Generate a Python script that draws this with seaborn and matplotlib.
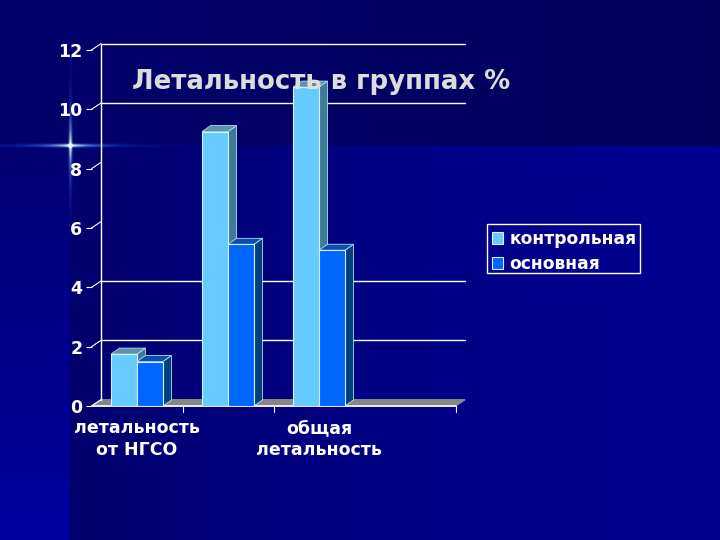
import numpy as np
import pandas as pd
import seaborn as sns
import matplotlib.pyplot as plt
from matplotlib.patches import Polygon, Rectangle

# Chart data
groups = [0, 1, 2, 3]
tick_labels = ['летальность\nот НГСО', '', 'общая\nлетальность', '']
control = [1.75, 9.25, 10.75, np.nan]
main = [1.5, 5.45, 5.25, np.nan]
series_names = ['контрольная', 'основная']
y_ticks = [0, 2, 4, 6, 8, 10, 12]
grid_levels = [2, 4, 10, 12]

df = pd.DataFrame({
    'group': groups * 2,
    'series': [series_names[0]] * 4 + [series_names[1]] * 4,
    'value': control + main,
})

LIGHT = '#66ccff'
BLUE = '#0066ff'
side_colors = {LIGHT: '#3f7a96', BLUE: '#00407f'}
top_colors = {LIGHT: '#5a93ad', BLUE: '#0a4fb0'}

sns.set_style('white')
plt.rcParams['font.family'] = ['DejaVu Sans']

W, H = 720, 540
fig = plt.figure(figsize=(7.2, 5.4), dpi=100)

# slide background with the flare
yy, xx = np.mgrid[0:H, 0:W]
blue = 0.42 + 0.15 * np.clip((xx - 70) / 650, 0, 1) ** 0.6
top = yy <= 145
blue[top] = 0.42 - 0.06 * np.clip((xx[top] - 70) / 650, 0, 1)
left = (xx < 70) & ~top
blue[left] = 0.45 + 0.18 * (yy[left] - 145) / 395
line_h = np.exp(-((yy - 145) / 1.6) ** 2)
line_v = np.exp(-((xx - 70) / 1.6) ** 2)
dist_h = np.abs(xx - 70)
dist_v = np.abs(yy - 145)
white = line_h * np.exp(-dist_h / 14.0) + line_v * np.exp(-dist_v / 14.0)
glow = line_h * np.exp(-dist_h / 40.0) + line_v * np.exp(-dist_v / 32.0)
bg = np.dstack([0.85 * white + 0.1 * glow,
                0.85 * white + 0.3 * glow,
                blue + 0.6 * glow])
back = fig.add_axes([0, 0, 1, 1])
back.imshow(np.clip(bg, 0, 1), aspect='auto')
back.axis('off')

# axes sit on the front plane of the fake 3d box
ax = fig.add_axes([91.5 / W, 1 - 406 / H, 364 / W, 356 / H])
ax.patch.set_alpha(0)
sns.barplot(data=df, x='group', y='value', hue='series', order=groups,
            palette=[LIGHT, BLUE], hue_order=series_names, width=0.57,
            gap=0, saturation=1, edgecolor='#d5f0ff', linewidth=0.8, ax=ax, zorder=5)
bars = list(ax.patches)
ax.set_ylim(0, 12)
ax.set_xlim(-0.5, 3.5)

px_x = 4 / 364
px_y = 12 / 356
wall_dx, wall_dy = 9.5 * px_x, 6.3 * px_y
bar_dx, bar_dy = 8.5 * px_x, 6 * px_y

# back wall, grid lines and the floor
x0, x1 = ax.get_xlim()
ax.fill([x0, x0 + wall_dx, x1 + wall_dx, x1], [0, wall_dy, wall_dy, 0],
        color='#868686', clip_on=False, zorder=1)
ax.plot([x0, x1], [0, 0], color='white', lw=1.2, clip_on=False, zorder=4)
ax.plot([x0 + wall_dx] * 2, [wall_dy, 12 + wall_dy], color='white', lw=1,
        clip_on=False, zorder=1)
for t in grid_levels:
    ax.plot([x0 + wall_dx, x1 + wall_dx], [t + wall_dy] * 2, color='white',
            lw=1, clip_on=False, zorder=1)
for t in y_ticks:
    ax.plot([x0, x0 + wall_dx], [t, t + wall_dy], color='white', lw=0.8,
            clip_on=False, zorder=1)

# side and top faces taken from the seaborn bars
for bar in bars:
    h = bar.get_height()
    if not h > 0:
        continue
    c = LIGHT if bar.get_facecolor()[1] > 0.6 else BLUE
    x_l, x_r = bar.get_x(), bar.get_x() + bar.get_width()
    ax.add_patch(Polygon([(x_r, 0), (x_r + bar_dx, bar_dy), (x_r + bar_dx, h + bar_dy), (x_r, h)],
                         fc=side_colors[c], ec='#b5dcef', lw=0.6, clip_on=False, zorder=3))
    ax.add_patch(Polygon([(x_l, h), (x_l + bar_dx, h + bar_dy), (x_r + bar_dx, h + bar_dy), (x_r, h)],
                         fc=top_colors[c], ec='#b5dcef', lw=0.6, clip_on=False, zorder=3))

for s in ['top', 'right', 'left', 'bottom']:
    ax.spines[s].set_visible(False)

ax.set_xlabel('')
ax.set_ylabel('')
ax.set_yticks(y_ticks)
ax.set_yticklabels([str(t) for t in y_ticks], fontsize=12.5, fontweight='bold', color='white')
ax.set_xticks(groups)
ax.set_xticklabels(tick_labels, fontsize=12.5, fontweight='bold', color='white', linespacing=1.3)
ax.tick_params(axis='y', left=True, length=4.5, width=0.8, color='white', pad=2)
ax.tick_params(axis='x', bottom=False, pad=6)
for x in [0.5, 1.5, 3.5]:
    ax.plot([x, x], [0, -6 * px_y], color='white', lw=0.8, clip_on=False, zorder=4)

# legend without its own frame, the box goes on separately
leg = ax.legend(loc='upper left', bbox_to_anchor=(491.5 / W, 1 - 230 / H),
                bbox_transform=fig.transFigure, borderaxespad=0, borderpad=0,
                frameon=False, prop={'size': 12.3, 'weight': 'bold'}, labelcolor='white',
                handlelength=0.68, handleheight=0.68, handletextpad=0.38, labelspacing=0.42)
fig.add_artist(Rectangle((487 / W, 1 - 273 / H), 153 / W, 49 / H, fill=False,
                         ec='white', lw=1, transform=fig.transFigure))

fig.text(132 / W, 1 - 82 / H, 'Летальность в группах %', fontsize=18.7, fontweight='bold',
         color='#dcdcdc', va='center', ha='left', zorder=10)

fig.savefig('out.png', dpi=100)
